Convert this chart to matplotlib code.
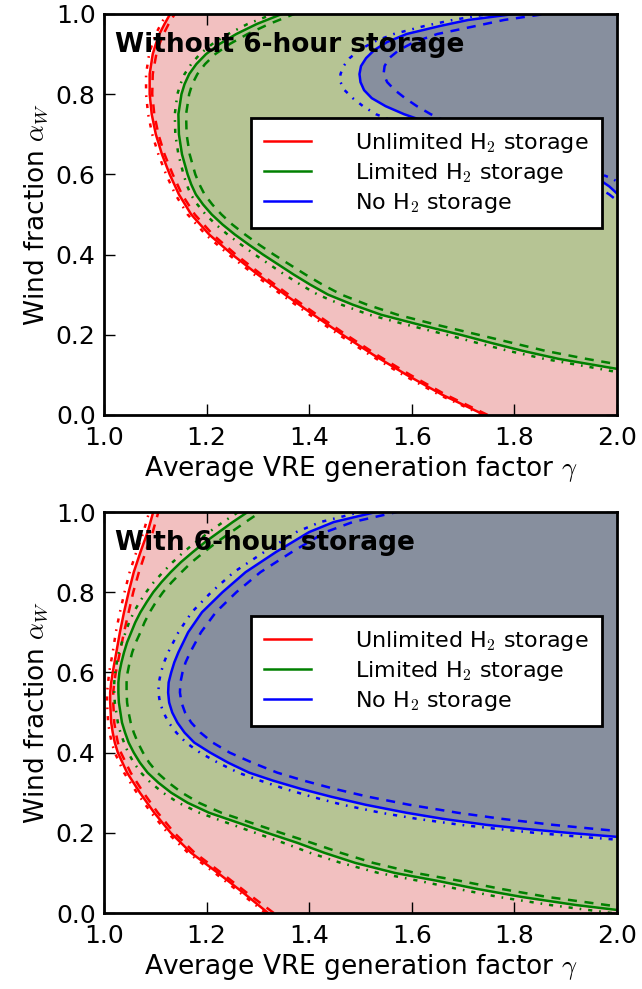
import matplotlib
matplotlib.use('Agg')
import matplotlib.pyplot as plt

# ---------------- data: alpha_W grid and gamma for each curve ----------------
# top panel: without 6-hour storage
top_red_alpha = [0.0, 0.05, 0.1, 0.15, 0.2, 0.25, 0.3, 0.35, 0.4, 0.45, 0.5, 0.55,
                 0.6, 0.65, 0.7, 0.75, 0.8, 0.85, 0.9, 0.925, 0.95, 0.975, 1.0]
top_red_solid = [1.742, 1.660, 1.590, 1.525, 1.465, 1.408, 1.353, 1.300, 1.250, 1.205, 1.170, 1.146,
                 1.128, 1.113, 1.101, 1.093, 1.089, 1.089, 1.095, 1.101, 1.108, 1.118, 1.129]
top_red_dashed = [1.748, 1.667, 1.597, 1.532, 1.472, 1.415, 1.360, 1.307, 1.257, 1.212, 1.177, 1.152,
                  1.134, 1.118, 1.106, 1.098, 1.094, 1.095, 1.102, 1.108, 1.116, 1.126, 1.138]
top_red_dashdot = [1.738, 1.654, 1.583, 1.518, 1.458, 1.401, 1.346, 1.293, 1.243, 1.198, 1.163, 1.139,
                   1.121, 1.106, 1.094, 1.086, 1.082, 1.082, 1.088, 1.094, 1.101, 1.111, 1.122]

top_green_alpha = [0.10, 0.12, 0.14, 0.16, 0.18, 0.20, 0.225, 0.25, 0.275, 0.30, 0.325, 0.35,
                   0.375, 0.40, 0.425, 0.45, 0.475, 0.50, 0.525, 0.55, 0.575, 0.60, 0.65, 0.70,
                   0.75, 0.80, 0.825, 0.85, 0.875, 0.90, 0.925, 0.95, 0.975, 1.0]
top_green_solid = [2.07, 1.977, 1.886, 1.816, 1.754, 1.695, 1.615, 1.540, 1.485, 1.437, 1.402, 1.370,
                   1.340, 1.310, 1.282, 1.255, 1.231, 1.210, 1.193, 1.179, 1.170, 1.163, 1.152, 1.146,
                   1.145, 1.151, 1.157, 1.166, 1.180, 1.199, 1.225, 1.258, 1.298, 1.347]
top_green_dashed = [2.13, 2.03, 1.94, 1.86, 1.795, 1.73, 1.648, 1.572, 1.513, 1.463, 1.426, 1.393,
                    1.362, 1.331, 1.302, 1.275, 1.250, 1.229, 1.211, 1.196, 1.186, 1.178, 1.167, 1.161,
                    1.160, 1.166, 1.172, 1.182, 1.197, 1.217, 1.245, 1.280, 1.322, 1.371]
top_green_dashdot = [2.03, 1.945, 1.858, 1.788, 1.727, 1.668, 1.590, 1.517, 1.463, 1.417, 1.383, 1.352,
                     1.323, 1.294, 1.267, 1.241, 1.218, 1.198, 1.182, 1.169, 1.161, 1.155, 1.145, 1.139,
                     1.138, 1.143, 1.149, 1.157, 1.170, 1.187, 1.211, 1.242, 1.280, 1.330]

top_blue_alpha = [0.50, 0.53, 0.55, 0.57, 0.59, 0.62, 0.66, 0.70, 0.73, 0.75, 0.77, 0.79,
                  0.81, 0.83, 0.85, 0.87, 0.89, 0.91, 0.93, 0.95, 0.97, 0.985, 1.0]
top_blue_solid = [2.04, 2.02, 2.002, 1.985, 1.962, 1.91, 1.82, 1.72, 1.63, 1.585, 1.549, 1.522,
                  1.507, 1.500, 1.498, 1.501, 1.511, 1.527, 1.552, 1.590, 1.655, 1.71, 1.80]
top_blue_dashed = [2.05, 2.005, 1.985, 1.96, 1.93, 1.88, 1.80, 1.725, 1.67, 1.637, 1.61, 1.587,
                   1.567, 1.552, 1.545, 1.547, 1.556, 1.575, 1.605, 1.65, 1.725, 1.78, 1.86]
top_blue_dashdot = [2.15, 2.09, 2.05, 2.015, 1.99, 1.93, 1.81, 1.67, 1.57, 1.53, 1.505, 1.485,
                    1.469, 1.461, 1.461, 1.467, 1.479, 1.498, 1.525, 1.565, 1.625, 1.68, 1.75]

# bottom panel: with 6-hour storage
bot_red_alpha = [0.0, 0.05, 0.1, 0.15, 0.2, 0.25, 0.3, 0.35, 0.4, 0.425, 0.45, 0.475, 0.5,
                 0.525, 0.55, 0.575, 0.6, 0.65, 0.7, 0.75, 0.8, 0.85, 0.9, 0.95, 1.0]
bot_red_solid = [1.320, 1.272, 1.222, 1.170, 1.130, 1.098, 1.070, 1.045, 1.027, 1.021, 1.017, 1.014, 1.013,
                 1.012, 1.012, 1.014, 1.017, 1.024, 1.031, 1.039, 1.048, 1.058, 1.071, 1.085, 1.096]
bot_red_dashed = [1.331, 1.279, 1.229, 1.177, 1.137, 1.105, 1.077, 1.052, 1.033, 1.027, 1.023, 1.020, 1.019,
                  1.018, 1.018, 1.020, 1.023, 1.031, 1.039, 1.048, 1.057, 1.068, 1.081, 1.095, 1.106]
bot_red_dashdot = [1.315, 1.266, 1.216, 1.164, 1.124, 1.092, 1.064, 1.039, 1.021, 1.015, 1.011, 1.008, 1.007,
                   1.006, 1.006, 1.008, 1.010, 1.017, 1.023, 1.031, 1.040, 1.050, 1.063, 1.077, 1.088]

bot_green_alpha = [0.0, 0.02, 0.04, 0.06, 0.08, 0.10, 0.125, 0.15, 0.175, 0.2, 0.225, 0.25,
                   0.275, 0.3, 0.325, 0.35, 0.375, 0.4, 0.425, 0.45, 0.475, 0.5, 0.525, 0.55,
                   0.575, 0.6, 0.625, 0.65, 0.675, 0.7, 0.725, 0.75, 0.775, 0.8, 0.825, 0.85,
                   0.875, 0.9, 0.925, 0.95, 0.975, 1.0]
bot_green_solid = [2.05, 1.92, 1.815, 1.728, 1.651, 1.567, 1.490, 1.430, 1.377, 1.318, 1.262, 1.205,
                   1.163, 1.131, 1.106, 1.085, 1.070, 1.058, 1.048, 1.041, 1.035, 1.032, 1.029, 1.028,
                   1.028, 1.030, 1.034, 1.039, 1.045, 1.053, 1.061, 1.071, 1.083, 1.096, 1.112, 1.130,
                   1.150, 1.173, 1.197, 1.224, 1.251, 1.280]
bot_green_dashed = [2.10, 1.98, 1.865, 1.775, 1.695, 1.607, 1.525, 1.462, 1.405, 1.345, 1.287, 1.229,
                    1.185, 1.152, 1.126, 1.104, 1.088, 1.076, 1.066, 1.058, 1.052, 1.048, 1.045, 1.044,
                    1.044, 1.046, 1.050, 1.055, 1.062, 1.071, 1.079, 1.089, 1.101, 1.115, 1.132, 1.151,
                    1.171, 1.195, 1.220, 1.248, 1.276, 1.305]
bot_green_dashdot = [1.99, 1.87, 1.77, 1.69, 1.615, 1.535, 1.462, 1.402, 1.350, 1.295, 1.240, 1.186,
                     1.145, 1.115, 1.091, 1.072, 1.058, 1.047, 1.039, 1.032, 1.027, 1.024, 1.021, 1.020,
                     1.020, 1.022, 1.025, 1.029, 1.035, 1.042, 1.049, 1.058, 1.069, 1.082, 1.097, 1.115,
                     1.134, 1.155, 1.179, 1.205, 1.232, 1.262]

bot_blue_alpha = [0.18, 0.19, 0.20, 0.21, 0.22, 0.235, 0.25, 0.27, 0.29, 0.31, 0.33, 0.35, 0.375,
                  0.40, 0.425, 0.45, 0.475, 0.50, 0.525, 0.55, 0.575, 0.60, 0.625, 0.65, 0.70,
                  0.75, 0.80, 0.85, 0.90, 0.95, 0.975, 1.0]
bot_blue_solid = [2.11, 2.0, 1.905, 1.82, 1.745, 1.66, 1.59, 1.51, 1.443, 1.383, 1.33, 1.283, 1.242,
                  1.207, 1.176, 1.157, 1.143, 1.133, 1.127, 1.125, 1.126, 1.131, 1.137, 1.145, 1.164,
                  1.191, 1.231, 1.276, 1.335, 1.40, 1.448, 1.53]
bot_blue_dashed = [2.25, 2.14, 2.04, 1.955, 1.875, 1.775, 1.69, 1.595, 1.515, 1.448, 1.39, 1.338, 1.289,
                   1.245, 1.212, 1.188, 1.170, 1.158, 1.151, 1.148, 1.149, 1.153, 1.159, 1.168, 1.189,
                   1.218, 1.258, 1.305, 1.366, 1.432, 1.485, 1.571]
bot_blue_dashdot = [2.03, 1.93, 1.84, 1.765, 1.695, 1.61, 1.54, 1.465, 1.405, 1.352, 1.305, 1.262, 1.222,
                    1.187, 1.16, 1.141, 1.126, 1.116, 1.109, 1.106, 1.107, 1.111, 1.117, 1.125, 1.145,
                    1.171, 1.209, 1.253, 1.312, 1.375, 1.422, 1.50]

labels = ['Unlimited H$_2$ storage', 'Limited H$_2$ storage', 'No H$_2$ storage']
line_colors = ['red', 'green', 'blue']
fill_colors = ['#f2c0c0', '#b6c494', '#878f9e']
titles = ['Without 6-hour storage', 'With 6-hour storage']

# ---------------- style (old matplotlib look) ----------------
plt.rcParams['font.family'] = ['DejaVu Sans']
plt.rcParams['mathtext.fontset'] = 'cm'
plt.rcParams['lines.scale_dashes'] = False

DASHED = (0, (6.5, 5.5))
DASHDOT = (0, (3, 5, 1.2, 5))
LW = 1.8

fig = plt.figure(figsize=(6.42, 9.89), dpi=100)
ax_top = fig.add_axes([0.162, 0.5804, 0.799, 0.4055])
ax_bot = fig.add_axes([0.162, 0.0768, 0.799, 0.4055])

panels = [
    (ax_top, titles[0],
     [(top_red_alpha, top_red_solid, top_red_dashed, top_red_dashdot),
      (top_green_alpha, top_green_solid, top_green_dashed, top_green_dashdot),
      (top_blue_alpha, top_blue_solid, top_blue_dashed, top_blue_dashdot)]),
    (ax_bot, titles[1],
     [(bot_red_alpha, bot_red_solid, bot_red_dashed, bot_red_dashdot),
      (bot_green_alpha, bot_green_solid, bot_green_dashed, bot_green_dashdot),
      (bot_blue_alpha, bot_blue_solid, bot_blue_dashed, bot_blue_dashdot)]),
]

for ax, title, curves in panels:
    # filled regions right of each solid curve, stacked red -> green -> blue
    for i, (a, g_solid, g_dash, g_dd) in enumerate(curves):
        ax.fill_betweenx(a, g_solid, 2.5, color=fill_colors[i], lw=0, zorder=1 + i)
    for i, (a, g_solid, g_dash, g_dd) in enumerate(curves):
        ax.plot(g_solid, a, color=line_colors[i], lw=LW, ls='-', label=labels[i], zorder=5)
        ax.plot(g_dash, a, color=line_colors[i], lw=LW, ls=DASHED, zorder=5)
        ax.plot(g_dd, a, color=line_colors[i], lw=LW, ls=DASHDOT, zorder=5)

    ax.set_xlim(1.0, 2.0)
    ax.set_ylim(0.0, 1.0)
    ax.set_xticks([1.0, 1.2, 1.4, 1.6, 1.8, 2.0])
    ax.set_yticks([0.0, 0.2, 0.4, 0.6, 0.8, 1.0])
    ax.tick_params(direction='in', top=True, right=True, length=8, width=1,
                   labelsize=18)
    ax.tick_params(axis='x', pad=8)
    ax.tick_params(axis='y', pad=6)
    for sp in ax.spines.values():
        sp.set_linewidth(2)
        sp.set_zorder(10)
    ax.set_xlabel(r'Average VRE generation factor $\gamma$', fontsize=19, labelpad=3)
    ax.set_ylabel(r'Wind fraction $\alpha_W$', fontsize=19, labelpad=4)

    ax.text(0.022, 0.922, title, transform=ax.transAxes, fontsize=19,
            fontweight='bold', ha='left', va='center', zorder=8)

    leg = ax.legend(loc='upper right', bbox_to_anchor=(0.971, 0.741), fontsize=16,
                    frameon=True, fancybox=False, edgecolor='black', framealpha=1,
                    handlelength=2.1, handletextpad=2.0, borderpad=0.6,
                    labelspacing=0.26, borderaxespad=0)
    leg.get_frame().set_linewidth(2)
    leg.set_zorder(9)

fig.savefig('out.png', dpi=100)
